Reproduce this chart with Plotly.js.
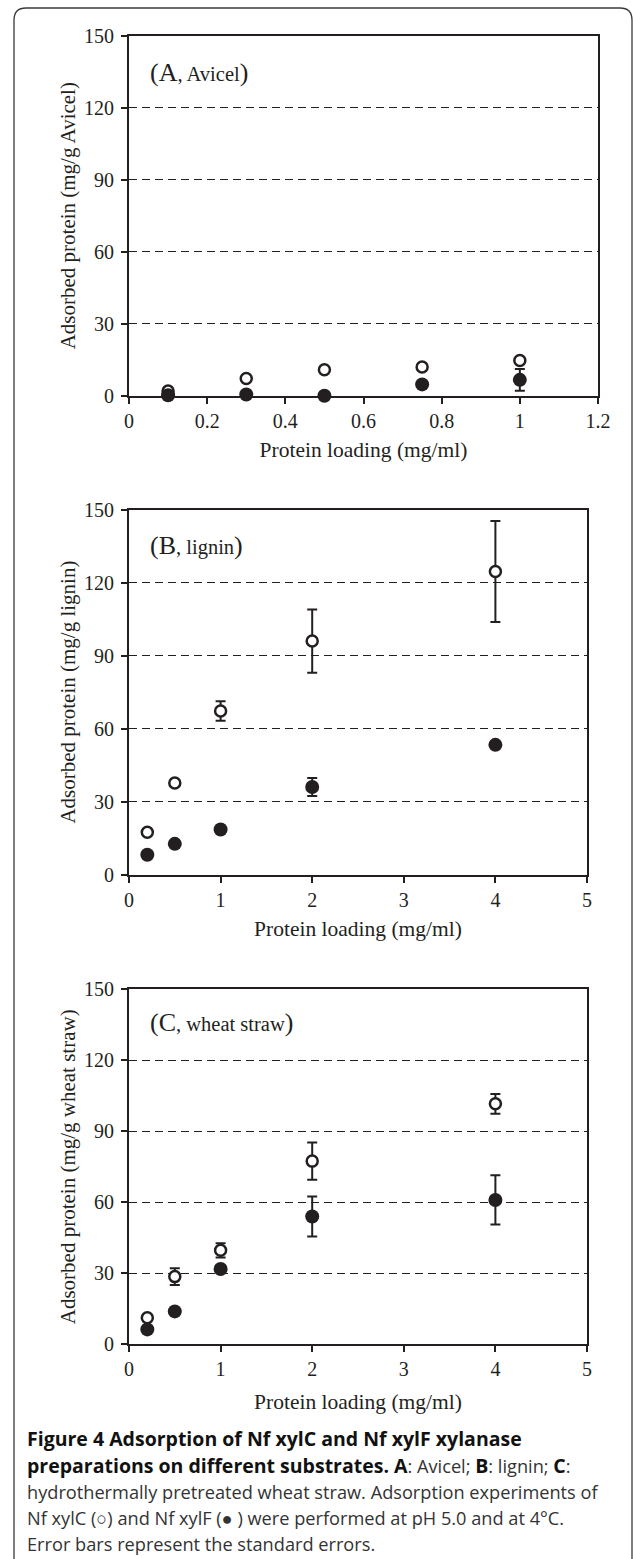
<!DOCTYPE html>
<html>
<head>
<meta charset="utf-8">
<script src="https://cdn.plot.ly/plotly-3.0.1.min.js"></script>
<style>
  html, body { margin: 0; padding: 0; background: #ffffff; }
  #chart { width: 633px; height: 1559px; }
</style>
</head>
<body>
<div id="chart"></div>
<script>
// ---- Data ----
// Panel A: Avicel
const xA = [0.1, 0.3, 0.5, 0.75, 1];
const xylC_A = [2.0, 7.2, 10.8, 12.0, 14.7];
const xylC_A_err = [0.5, 0.5, 0.5, 0.5, 0.5];
const xylF_A = [0.2, 0.5, 0.0, 4.7, 6.6];
const xylF_A_err = [0, 0, 0, 0, 4.5];

// Panel B: lignin
const xB = [0.2, 0.5, 1, 2, 4];
const xylC_B = [17.4, 37.6, 67.2, 96.0, 124.6];
const xylC_B_err = [1.0, 1.0, 4.0, 13.0, 20.8];
const xylF_B = [8.1, 12.6, 18.5, 36.0, 53.3];
const xylF_B_err = [0.5, 0.5, 0.5, 3.7, 1.0];

// Panel C: wheat straw
const xC = [0.2, 0.5, 1, 2, 4];
const xylC_C = [11.2, 28.6, 39.7, 77.4, 101.6];
const xylC_C_err = [1.0, 3.5, 3.0, 7.9, 4.2];
const xylF_C = [6.3, 13.9, 31.8, 54.0, 61.0];
const xylF_C_err = [0.5, 0.5, 0.5, 8.4, 10.4];

const yTitles = ["Adsorbed protein (mg/g Avicel)", "Adsorbed protein (mg/g lignin)", "Adsorbed protein (mg/g wheat straw)"];
const xTitle = "Protein loading (mg/ml)";
const panelLetters = ["A", "B", "C"];
const panelNames = ["Avicel", "lignin", "wheat straw"];

// ---- Layout helpers (pixel geometry) ----
const W = 633, H = 1559;
const INK = "#231f20";
const SERIF = "Liberation Serif, Times New Roman, serif";
const px = v => v / W;
const py = v => 1 - v / H;

function openTrace(x, y, e, xa, ya) {
  return {
    x: x, y: y, xaxis: xa, yaxis: ya, type: "scatter", mode: "markers",
    name: "Nf xylC", showlegend: false, cliponaxis: false,
    marker: { symbol: "circle", size: 11, color: "#ffffff", line: { color: INK, width: 2.5 } },
    error_y: { type: "data", array: e, visible: true, color: INK, thickness: 2, width: 5 }
  };
}
function filledTrace(x, y, e, xa, ya) {
  return {
    x: x, y: y, xaxis: xa, yaxis: ya, type: "scatter", mode: "markers",
    name: "Nf xylF", showlegend: false, cliponaxis: false,
    marker: { symbol: "circle", size: 14, color: INK, line: { width: 0 } },
    error_y: { type: "data", array: e, visible: true, color: INK, thickness: 2, width: 5 }
  };
}

const data = [
  openTrace(xA, xylC_A, xylC_A_err, "x", "y"),
  filledTrace(xA, xylF_A, xylF_A_err, "x", "y"),
  openTrace(xB, xylC_B, xylC_B_err, "x2", "y2"),
  filledTrace(xB, xylF_B, xylF_B_err, "x2", "y2"),
  openTrace(xC, xylC_C, xylC_C_err, "x3", "y3"),
  filledTrace(xC, xylF_C, xylF_C_err, "x3", "y3")
];

function xAxis(domain, range, dtick, anchor, standoff) {
  return {
    domain: domain, range: range, dtick: dtick, tick0: 0, anchor: anchor,
    showline: true, linecolor: INK, linewidth: 2, mirror: true,
    ticks: "outside", ticklen: 6, tickwidth: 2, tickcolor: INK,
    showgrid: false, zeroline: false, fixedrange: true,
    tickfont: { family: SERIF, size: 20, color: INK },
    title: { text: xTitle, font: { family: SERIF, size: 21.5, color: INK }, standoff: standoff }
  };
}
function yAxis(domain, title, anchor) {
  return {
    domain: domain, range: [0, 150], dtick: 30, tick0: 0, anchor: anchor,
    showline: true, linecolor: INK, linewidth: 2, mirror: true,
    ticks: "outside", ticklen: 6, tickwidth: 2, tickcolor: INK,
    ticklabelstandoff: 3,
    showgrid: true, gridcolor: INK, gridwidth: 1.5, griddash: "8px,5px",
    zeroline: false, fixedrange: true,
    tickfont: { family: SERIF, size: 20, color: INK },
    title: { text: title, font: { family: SERIF, size: 21, color: INK }, standoff: 3 }
  };
}

// panel pixel boxes: [left, right, top, bottom]
const boxes = [[129, 598, 35.7, 395.7], [129, 587, 509.7, 874.5], [129, 587, 989.3, 1344.3]];

const layout = {
  width: W, height: H,
  margin: { l: 0, r: 0, t: 0, b: 0 },
  paper_bgcolor: "#ffffff", plot_bgcolor: "#ffffff",
  showlegend: false,
  xaxis: xAxis([px(boxes[0][0]), px(boxes[0][1])], [0, 1.2], 0.2, "y", 11),
  yaxis: yAxis([py(boxes[0][3]), py(boxes[0][2])], yTitles[0], "x"),
  xaxis2: xAxis([px(boxes[1][0]), px(boxes[1][1])], [0, 5], 1, "y2", 11),
  yaxis2: yAxis([py(boxes[1][3]), py(boxes[1][2])], yTitles[1], "x2"),
  xaxis3: xAxis([px(boxes[2][0]), px(boxes[2][1])], [0, 5], 1, "y3", 15),
  yaxis3: yAxis([py(boxes[2][3]), py(boxes[2][2])], yTitles[2], "x3"),
  annotations: [],
  shapes: [{
    type: "path", xref: "paper", yref: "paper",
    path: "M " + px(14) + "," + py(1562) + " L " + px(14) + "," + py(20) +
          " Q " + px(14) + "," + py(8) + " " + px(26) + "," + py(8) +
          " L " + px(620) + "," + py(8) +
          " Q " + px(632) + "," + py(8) + " " + px(632) + "," + py(20) +
          " L " + px(632) + "," + py(1562),
    line: { color: "#3a3a3a", width: 1.3 }
  }]
};

// panel labels
const labelOffsets = [37, 36, 33];
panelLetters.forEach((L, i) => {
  layout.annotations.push({
    xref: "paper", yref: "paper",
    x: px(boxes[i][0] + 19), y: py(boxes[i][2] + labelOffsets[i]),
    xanchor: "left", yanchor: "middle", showarrow: false,
    text: "<span style='font-size:26px'>(" + L + "</span>, " + panelNames[i] + "<span style='font-size:26px'>)</span>",
    font: { family: SERIF, size: 20.5, color: INK }
  });
});

// caption
const SANS = "Open Sans, Noto Sans, sans-serif";
const B = s => "<b><span style='font-size:19.5px;color:#111111'>" + s + "</span></b>";
const captionLines = [
  B("Figure 4 Adsorption of Nf xylC and Nf xylF xylanase"),
  B("preparations on different substrates. A") + ": Avicel; " + B("B") + ": lignin; " + B("C") + ":",
  "hydrothermally pretreated wheat straw. Adsorption experiments of",
  "Nf xylC (○) and Nf xylF (● ) were performed at pH 5.0 and at 4°C.",
  "Error bars represent the standard errors."
];
const captionY = [1438, 1465, 1492, 1518, 1544];
captionLines.forEach((t, i) => {
  layout.annotations.push({
    xref: "paper", yref: "paper", x: px(25), y: py(captionY[i]),
    xanchor: "left", yanchor: "middle", showarrow: false,
    text: t, font: { family: SANS, size: 18.2, color: "#333333" }
  });
});

Plotly.newPlot("chart", data, layout, { staticPlot: true, displayModeBar: false });
</script>
</body>
</html>
